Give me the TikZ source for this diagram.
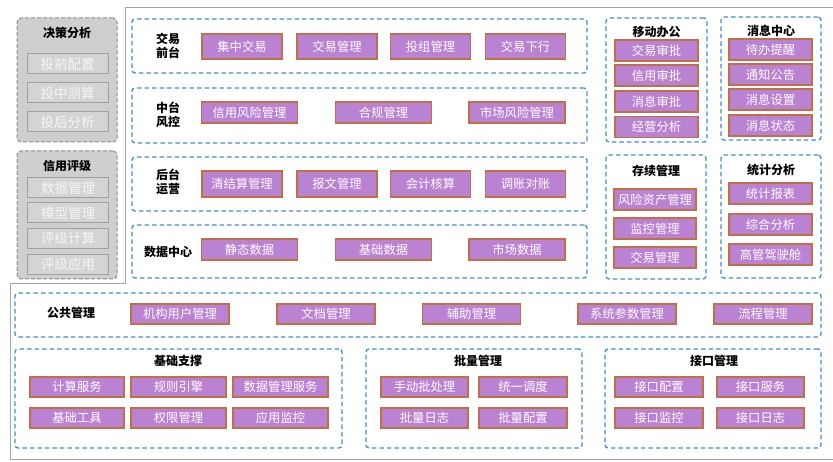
\documentclass[tikz,border=0pt]{standalone}
\usepackage{fontspec}
\setmainfont{Noto Sans CJK SC}
\usepackage{tikz}
\usetikzlibrary{positioning}
\definecolor{framegray}{RGB}{166,166,166}
\definecolor{panelgray}{RGB}{208,207,207}
\definecolor{panelline}{RGB}{140,140,140}
\definecolor{itemgray}{RGB}{212,212,212}
\definecolor{itemline}{RGB}{160,160,160}
\definecolor{itemtext}{RGB}{246,246,246}
\definecolor{dashblue}{RGB}{66,140,214}
\definecolor{purplebox}{RGB}{186,130,210}
\definecolor{purpleline}{RGB}{192,112,68}
\tikzset{
  bluegrp/.style={draw=dashblue, line width=1.3pt, dash pattern=on 4.5pt off 3pt,
    rounded corners=3pt, inner sep=0pt},
  graygrp/.style={draw=panelline, fill=panelgray, line width=1pt,
    dash pattern=on 4pt off 2pt, rounded corners=4pt, inner sep=0pt},
  itembox/.style={draw=purpleline, fill=purplebox, line width=1.2pt, text=white,
    inner sep=0pt, minimum height=21pt, font=\fontsize{12.3}{14}\selectfont},
  grayitem/.style={draw=itemline, fill=itemgray, line width=1pt, text=itemtext,
    inner sep=0pt, minimum height=20pt, minimum width=81pt,
    font=\fontsize{13.5}{15}\selectfont},
  grptitle/.style={font=\fontsize{12}{14}\selectfont\bfseries, align=center, inner sep=0pt},
  frameline/.style={draw=framegray, line width=1pt}
}
\begin{document}
\begin{tikzpicture}[x=1pt,y=-1pt]
\useasboundingbox (0,0) rectangle (833,462);
\coordinate (ftr) at (833,8);
\coordinate (ftl) at (125,8);
\coordinate (fml) at (125,284);
\coordinate (fmo) at (10,284);
\coordinate (fbl) at (10,459);
\coordinate (fbr) at (833,459);
\draw[frameline] (ftr) -- (ftl) -- (fml) -- (fmo) -- (fbl) -- (fbr);

% left panels
\node[graygrp, minimum width=100pt, minimum height=124pt] (jcfx) at (67,80) {};
\node[grptitle] (jcfxt) at (67,33) {决策分析};
\node[grayitem] (tqpz) at (67.5,64) {投前配置};
\node[grayitem] (tzcs) at (67.5,93) {投中测算};
\node[grayitem] (thfx) at (67.5,122) {投后分析};

\node[graygrp, minimum width=100pt, minimum height=128pt] (xypj) at (67,215) {};
\node[grptitle] (xypjt) at (67,166) {信用评级};
\node[grayitem] (sjgl) at (68,188) {数据管理};
\node[grayitem] (mxgl) at (68,213) {模型管理};
\node[grayitem] (pjjs) at (68,238.5) {评级计算};
\node[grayitem] (pjyy) at (68,264.5) {评级应用};

% business rows
\node[bluegrp, minimum width=455pt, minimum height=54pt] (jyqt) at (359.5,46) {};
\node[grptitle] (jyqtl) at (168,46) {交易\\前台};
\node[itembox, minimum width=80pt, minimum height=25pt] (jzjy) at (242,46.5) {集中交易};
\node[itembox, minimum width=80pt, minimum height=25pt] (jygl) at (337,46.5) {交易管理};
\node[itembox, minimum width=80pt, minimum height=25pt] (tzgl) at (430.5,46.5) {投组管理};
\node[itembox, minimum width=80pt, minimum height=25pt] (jyxx) at (525.5,46.5) {交易下行};

\node[bluegrp, minimum width=455pt, minimum height=55pt] (ztfk) at (359.5,115.5) {};
\node[grptitle] (ztfkl) at (168,115) {中台\\风控};
\node[itembox, minimum width=96pt] (xyfx) at (249.5,112.5) {信用风险管理};
\node[itembox, minimum width=96pt] (hggl) at (383.5,112.5) {合规管理};
\node[itembox, minimum width=96pt] (scfx) at (517,112.5) {市场风险管理};

\node[bluegrp, minimum width=455pt, minimum height=54pt] (htyy) at (359.5,184) {};
\node[grptitle] (htyyl) at (168,182) {后台\\运营};
\node[itembox, minimum width=80pt, minimum height=26pt] (qjsgl) at (242,184) {清结算管理};
\node[itembox, minimum width=80pt, minimum height=26pt] (bwgl) at (337,184) {报文管理};
\node[itembox, minimum width=80pt, minimum height=26pt] (kjhs) at (430.5,184) {会计核算};
\node[itembox, minimum width=80pt, minimum height=26pt] (tzdz) at (525.5,184) {调账对账};

\node[bluegrp, minimum width=455pt, minimum height=53pt] (sjzx) at (359.5,251.5) {};
\node[grptitle] (sjzxl) at (168,252) {数据中心};
\node[itembox, minimum width=96pt] (jtsj) at (249.5,249.5) {静态数据};
\node[itembox, minimum width=96pt] (jcsj) at (383.5,249.5) {基础数据};
\node[itembox, minimum width=96pt] (scsj) at (517,249.5) {市场数据};

% right panels
\node[bluegrp, minimum width=101pt, minimum height=124pt] (ydbg) at (656.5,80) {};
\node[grptitle] (ydbgt) at (656.5,32) {移动办公};
\node[itembox, minimum width=83pt] (jysp) at (656.5,50.5) {交易审批};
\node[itembox, minimum width=83pt] (xysp) at (656.5,75.5) {信用审批};
\node[itembox, minimum width=83pt] (xxsp) at (656.5,101.5) {消息审批};
\node[itembox, minimum width=83pt] (jyfx) at (656.5,127) {经营分析};

\node[bluegrp, minimum width=100pt, minimum height=123pt] (xxzx) at (771,78.5) {};
\node[grptitle] (xxzxt) at (771,31) {消息中心};
\node[itembox, minimum width=83pt] (dbtx) at (770.5,49.5) {待办提醒};
\node[itembox, minimum width=83pt] (tzgg) at (770.5,74.5) {通知公告};
\node[itembox, minimum width=83pt] (xxsz) at (770.5,99.5) {消息设置};
\node[itembox, minimum width=83pt] (xxzt) at (770.5,125.5) {消息状态};

\node[bluegrp, minimum width=100pt, minimum height=124pt] (cxgl) at (656,217) {};
\node[grptitle] (cxglt) at (656,171) {存续管理};
\node[itembox, minimum width=82pt] (fxzc) at (655,199.5) {风险资产管理};
\node[itembox, minimum width=82pt] (jkgl) at (655,228.5) {监控管理};
\node[itembox, minimum width=82pt] (jygl2) at (655,257.5) {交易管理};

\node[bluegrp, minimum width=100pt, minimum height=123pt] (tjfx) at (771,216.5) {};
\node[grptitle] (tjfxt) at (771,170) {统计分析};
\node[itembox, minimum width=83pt] (tjbb) at (770.5,193.5) {统计报表};
\node[itembox, minimum width=83pt] (zhfx) at (770.5,224.5) {综合分析};
\node[itembox, minimum width=83pt] (ggjsc) at (770.5,254.5) {高管驾驶舱};

% common management
\node[bluegrp, minimum width=806pt, minimum height=44pt] (gggl) at (418,315) {};
\node[grptitle] (ggglt) at (71,313) {公共管理};
\node[itembox, minimum width=98pt, minimum height=20pt] (jgyh) at (180,314) {机构用户管理};
\node[itembox, minimum width=98pt, minimum height=20pt] (wdgl) at (326,314) {文档管理};
\node[itembox, minimum width=98pt, minimum height=20pt] (fzgl) at (471.5,314) {辅助管理};
\node[itembox, minimum width=98pt, minimum height=20pt] (xtcs) at (627,314) {系统参数管理};
\node[itembox, minimum width=98pt, minimum height=20pt] (lcgl) at (763,314) {流程管理};

% foundation
\node[bluegrp, minimum width=327pt, minimum height=99pt] (jczc) at (178.5,398.5) {};
\node[grptitle] (jczct) at (178,361) {基础支撑};
\node[itembox, minimum width=94pt, minimum height=20pt] (jsfw) at (77,387) {计算服务};
\node[itembox, minimum width=95pt, minimum height=20pt] (gzyq) at (178.5,387) {规则引擎};
\node[itembox, minimum width=95pt, minimum height=20pt] (sjglfw) at (280.5,387) {数据管理服务};
\node[itembox, minimum width=94pt, minimum height=20pt] (jcgj) at (77,418) {基础工具};
\node[itembox, minimum width=95pt, minimum height=20pt] (qxgl) at (178.5,418) {权限管理};
\node[itembox, minimum width=95pt, minimum height=20pt] (yyjk) at (280.5,418) {应用监控};

\node[bluegrp, minimum width=216pt, minimum height=99pt] (plgl) at (474,398.5) {};
\node[grptitle] (plglt) at (478,361) {批量管理};
\node[itembox, minimum width=87pt, minimum height=20pt] (sdpcl) at (424.5,387) {手动批处理};
\node[itembox, minimum width=88pt, minimum height=20pt] (tydd) at (523,387) {统一调度};
\node[itembox, minimum width=87pt, minimum height=20pt] (plrz) at (424.5,418) {批量日志};
\node[itembox, minimum width=88pt, minimum height=20pt] (plpz) at (523,418) {批量配置};

\node[bluegrp, minimum width=216pt, minimum height=99pt] (jkglz) at (713,398.5) {};
\node[grptitle] (jkglt) at (714,361) {接口管理};
\node[itembox, minimum width=88pt, minimum height=20pt] (jkpz) at (659,387) {接口配置};
\node[itembox, minimum width=87pt, minimum height=20pt] (jkfw) at (760.5,387) {接口服务};
\node[itembox, minimum width=88pt, minimum height=20pt] (jkjk) at (659,418) {接口监控};
\node[itembox, minimum width=87pt, minimum height=20pt] (jkrz) at (760.5,418) {接口日志};
\end{tikzpicture}
\end{document}
